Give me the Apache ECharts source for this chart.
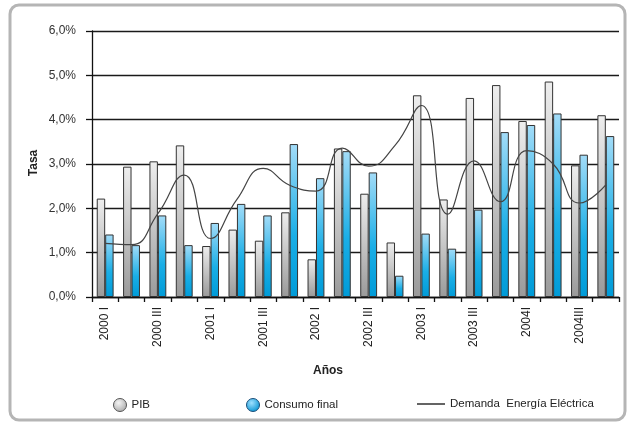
<!DOCTYPE html>
<html>
<head>
<meta charset="utf-8">
<script src="https://cdn.jsdelivr.net/npm/echarts@6/dist/echarts.min.js"></script>
<style>
  html, body { margin: 0; padding: 0; background: #fff; }
  #chart { width: 627px; height: 423px; }
</style>
</head>
<body>
<div id="chart"></div>
<script>
// Quarterly periods 2000 I – 2004 IV
const categories = [
  '2000 I', '2000 II', '2000 III', '2000 IV',
  '2001 I', '2001 II', '2001 III', '2001 IV',
  '2002 I', '2002 II', '2002 III', '2002 IV',
  '2003 I', '2003 II', '2003 III', '2003 IV',
  '2004I', '2004II', '2004III', '2004IV'
];

// Growth rates (%)
const pib = [
  2.22, 2.94, 3.06, 3.42,
  1.15, 1.52, 1.27, 1.91,
  0.85, 3.35, 2.33, 1.23,
  4.55, 2.20, 4.49, 4.78,
  3.97, 4.86, 2.97, 4.10
];
const consumoFinal = [
  1.41, 1.17, 1.84, 1.17,
  1.67, 2.10, 1.84, 3.45,
  2.68, 3.29, 2.81, 0.48,
  1.43, 1.09, 1.97, 3.72,
  3.88, 4.14, 3.21, 3.63
];
const demandaElectrica = [
  1.21, 1.18, 1.88, 2.75,
  1.32, 2.20, 2.90, 2.52,
  2.39, 3.36, 2.95, 3.42,
  4.32, 1.87, 3.07, 2.15,
  3.30, 3.00, 2.12, 2.53
];

// Y-axis ticks (%)
const yTicks = { min: 0, max: 6, step: 1 };

const FONT = '"Liberation Sans", Arial, Helvetica, sans-serif';

const grayFill = new echarts.graphic.LinearGradient(0, 0, 0, 1, [
  { offset: 0, color: '#eeeeee' },
  { offset: 1, color: '#9a9a9a' }
]);
const blueFill = new echarts.graphic.LinearGradient(0, 0, 0, 1, [
  { offset: 0, color: '#a3dcf8' },
  { offset: 0.6, color: '#1aaee6' },
  { offset: 1, color: '#009bd8' }
]);
const grayDot = new echarts.graphic.RadialGradient(0.4, 0.35, 0.7, [
  { offset: 0, color: '#f4f4f4' },
  { offset: 1, color: '#a8a8a8' }
]);
const blueDot = new echarts.graphic.RadialGradient(0.4, 0.35, 0.7, [
  { offset: 0, color: '#9fe0ff' },
  { offset: 1, color: '#0090d0' }
]);

const legendText = { fontSize: 11.5, color: '#222', fontFamily: FONT };

const chart = echarts.init(document.getElementById('chart'), null, { renderer: 'canvas' });

chart.setOption({
  animation: false,
  backgroundColor: '#ffffff',
  textStyle: { fontFamily: FONT },
  graphic: [
    {
      type: 'rect',
      shape: { x: 10, y: 5, width: 615, height: 415, r: 9 },
      style: { fill: 'none', stroke: '#b5b5b5', lineWidth: 3 },
      silent: true
    },
    {
      type: 'text',
      x: 34, y: 163,
      rotation: Math.PI / 2,
      style: {
        text: 'Tasa', font: 'bold 12px ' + FONT, fill: '#222',
        align: 'center', verticalAlign: 'middle'
      }
    },
    {
      type: 'text',
      x: 328, y: 371,
      style: {
        text: 'Años', font: 'bold 12px ' + FONT, fill: '#222',
        align: 'center', verticalAlign: 'middle'
      }
    }
  ],
  grid: { left: 92, right: 8, top: 31, bottom: 126, containLabel: false },
  legend: [
    {
      left: 113, top: 398, padding: 0, itemWidth: 13, itemHeight: 13, itemGap: 0,
      textStyle: legendText,
      data: [{ name: 'PIB', icon: 'circle',
               itemStyle: { color: grayDot, borderColor: '#555', borderWidth: 1 } }]
    },
    {
      left: 246, top: 398, padding: 0, itemWidth: 13, itemHeight: 13, itemGap: 0,
      textStyle: legendText,
      data: [{ name: 'Consumo final', icon: 'circle',
               itemStyle: { color: blueDot, borderColor: '#1b4f7a', borderWidth: 1 } }]
    },
    {
      left: 417, top: 398, padding: 0, itemWidth: 28, itemHeight: 1.4, itemGap: 0,
      textStyle: legendText,
      data: [{ name: 'Demanda  Energía Eléctrica', icon: 'rect',
               itemStyle: { color: '#222', borderWidth: 0 } }]
    }
  ],
  xAxis: {
    type: 'category',
    data: categories,
    boundaryGap: true,
    axisLine: { show: true, lineStyle: { color: '#111', width: 1.3 } },
    axisTick: { show: true, length: 5, interval: 0, lineStyle: { color: '#111', width: 1.3 } },
    axisLabel: {
      interval: 1, rotate: 90, margin: 10,
      fontSize: 12, color: '#222', fontFamily: FONT
    },
    splitLine: { show: false }
  },
  yAxis: {
    type: 'value',
    min: yTicks.min, max: yTicks.max, interval: yTicks.step,
    axisLine: { show: true, lineStyle: { color: '#111', width: 1.3 } },
    axisTick: { show: true, length: 6, lineStyle: { color: '#111', width: 1.3 } },
    axisLabel: {
      margin: 16, fontSize: 12, color: '#333', fontFamily: FONT,
      formatter: v => v.toFixed(1).replace('.', ',') + '%'
    },
    splitLine: { show: true, lineStyle: { color: '#1a1a1a', width: 1.3 } }
  },
  series: [
    {
      name: 'PIB', type: 'bar', data: pib,
      barGap: '0%', barCategoryGap: '36%',
      itemStyle: { color: grayFill, borderColor: '#333', borderWidth: 1 },
      z: 2
    },
    {
      name: 'Consumo final', type: 'bar', data: consumoFinal,
      barGap: '0%', barCategoryGap: '36%',
      itemStyle: { color: blueFill, borderColor: '#333', borderWidth: 1 },
      z: 2
    },
    {
      name: 'Demanda  Energía Eléctrica', type: 'line', data: demandaElectrica,
      smooth: 0.5, symbol: 'none', showSymbol: false,
      lineStyle: { color: '#444', width: 1.2 },
      itemStyle: { color: '#444' },
      z: 3
    }
  ]
});
</script>
</body>
</html>
